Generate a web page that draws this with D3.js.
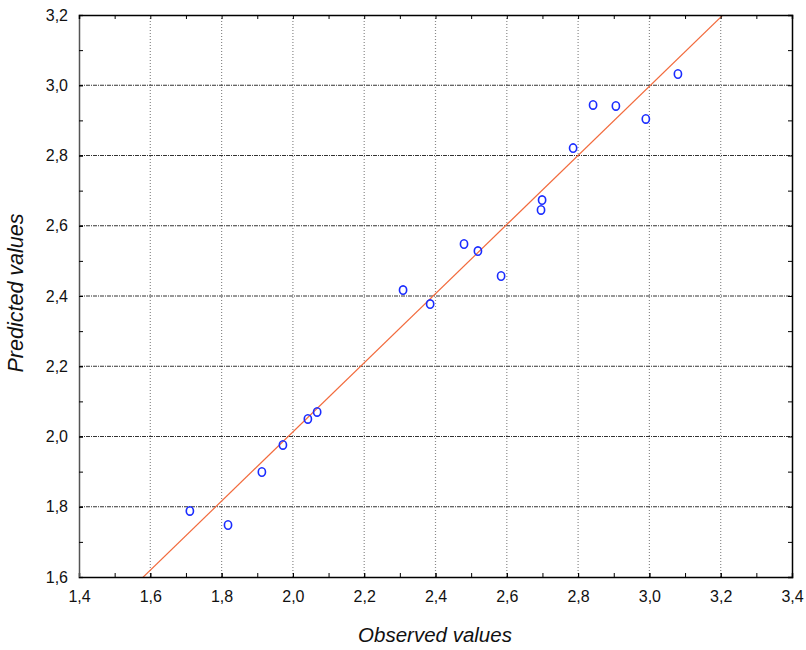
<!DOCTYPE html>
<html>
<head>
<meta charset="utf-8">
<script src="https://cdn.jsdelivr.net/npm/d3@7"></script>
<style>
  body { margin: 0; background: #fff; }
  text { font-family: "Liberation Sans", Arial, sans-serif; }
</style>
</head>
<body>
<div id="chart"></div>
<script>
// observed vs predicted values
var observed  = [1.711, 1.818, 1.913, 1.972, 2.042, 2.068, 2.309, 2.385, 2.480, 2.519, 2.584, 2.696, 2.699, 2.786, 2.842, 2.906, 2.990, 3.080];
var predicted = [1.788, 1.748, 1.899, 1.976, 2.050, 2.070, 2.417, 2.377, 2.548, 2.528, 2.457, 2.645, 2.673, 2.821, 2.944, 2.941, 2.904, 3.032];

// fitted line: predicted = a + b * observed
var fitIntercept = 0.045,
    fitSlope = 0.984;

var xTicks = [1.4, 1.6, 1.8, 2.0, 2.2, 2.4, 2.6, 2.8, 3.0, 3.2, 3.4];
var yTicks = [1.6, 1.8, 2.0, 2.2, 2.4, 2.6, 2.8, 3.0, 3.2];

var margin = {top: 15, right: 14, bottom: 73, left: 79},
    width = 806 - margin.left - margin.right,
    height = 650 - margin.top - margin.bottom;

var svg = d3.select("#chart")
    .append("svg")
    .attr("width", 806)
    .attr("height", 650);

var g = svg.append("g")
    .attr("transform", "translate(" + margin.left + "," + margin.top + ")");

var x = d3.scaleLinear().domain([1.4, 3.4]).range([0, width]);
var y = d3.scaleLinear().domain([1.6, 3.2]).range([height, 0]);

var fmt = function(d) { return d3.format(".1f")(d).replace(".", ","); };

// gridlines
g.selectAll(".vgrid")
    .data(xTicks.slice(1, -1))
    .enter().append("line")
    .attr("x1", function(d) { return x(d); })
    .attr("x2", function(d) { return x(d); })
    .attr("y1", 0)
    .attr("y2", height)
    .style("stroke", "#8a8a8a")
    .style("stroke-width", 1.2)
    .style("stroke-dasharray", "1,2");

g.selectAll(".hgrid")
    .data(yTicks.slice(1, -1))
    .enter().append("line")
    .attr("x1", 0)
    .attr("x2", width)
    .attr("y1", function(d) { return y(d); })
    .attr("y2", function(d) { return y(d); })
    .style("stroke", "#333")
    .style("stroke-width", 1)
    .style("stroke-dasharray", "4,1,1,1");

// fitted line, clipped to the plot
svg.append("clipPath").attr("id", "clip")
    .append("rect").attr("width", width).attr("height", height);

var fitX = [1.4, 3.4];
g.append("line")
    .attr("clip-path", "url(#clip)")
    .attr("x1", x(fitX[0]))
    .attr("y1", y(fitIntercept + fitSlope * fitX[0]))
    .attr("x2", x(fitX[1]))
    .attr("y2", y(fitIntercept + fitSlope * fitX[1]))
    .style("stroke", "#f26a3c")
    .style("stroke-width", 1.2);

// points (slightly tall circles, as in the original export)
g.selectAll(".pt")
    .data(observed)
    .enter().append("ellipse")
    .attr("class", "pt")
    .attr("cx", function(d) { return x(d); })
    .attr("cy", function(d, i) { return y(predicted[i]); })
    .attr("rx", 3.6)
    .attr("ry", 4.2)
    .style("fill", "none")
    .style("stroke", "#1a2cff")
    .style("stroke-width", 1.6);

// axes with inward ticks (minor every 0.1)
var xMinor = d3.range(15, 34).map(function(d) { return d / 10; });
var yMinor = d3.range(17, 32).map(function(d) { return d / 10; });

g.append("g")
    .attr("transform", "translate(0," + height + ")")
    .call(d3.axisBottom(x).tickValues(xTicks).tickFormat(fmt).tickSize(-4).tickPadding(14))
    .call(function(a) {
        a.select(".domain").style("stroke", "#000").style("stroke-width", 1.5);
        a.selectAll("text").style("font-size", "16px").style("fill", "#111");
    });

g.append("g")
    .call(d3.axisLeft(y).tickValues(yTicks).tickFormat(fmt).tickSize(-4).tickPadding(11))
    .call(function(a) {
        a.select(".domain").style("stroke", "#555").style("stroke-width", 1.5);
        a.selectAll("text").style("font-size", "16px").style("fill", "#111");
    });

g.append("g")
    .call(d3.axisTop(x).tickValues(xMinor).tickFormat("").tickSize(-4))
    .select(".domain").style("stroke", "#000").style("stroke-width", 1.5);

g.append("g")
    .attr("transform", "translate(" + width + ",0)")
    .call(d3.axisRight(y).tickValues(yMinor).tickFormat("").tickSize(-4))
    .select(".domain").style("stroke", "#000").style("stroke-width", 1.5);

g.append("g")
    .attr("transform", "translate(0," + height + ")")
    .call(d3.axisBottom(x).tickValues(xMinor).tickFormat("").tickSize(-4))
    .select(".domain").remove();

g.append("g")
    .call(d3.axisLeft(y).tickValues(yMinor).tickFormat("").tickSize(-4))
    .select(".domain").remove();

// axis titles
svg.append("text")
    .attr("x", 435)
    .attr("y", 642)
    .attr("text-anchor", "middle")
    .style("font-size", "20.5px")
    .style("font-style", "italic")
    .style("fill", "#111")
    .text("Observed values");

svg.append("text")
    .attr("transform", "translate(23," + 293 + ") rotate(-90)")
    .attr("text-anchor", "middle")
    .style("font-size", "21.5px")
    .style("font-style", "italic")
    .style("fill", "#111")
    .text("Predicted values");
</script>
</body>
</html>
